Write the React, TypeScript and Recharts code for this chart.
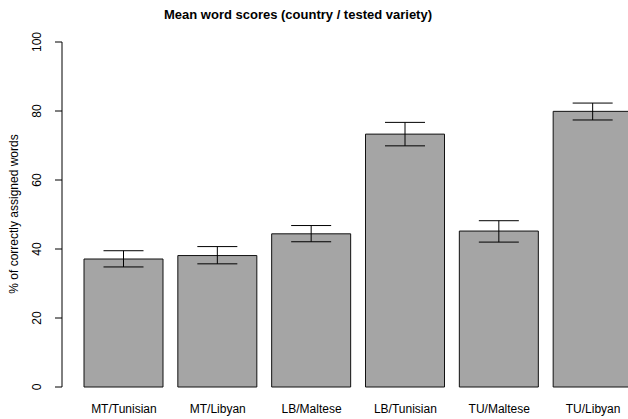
import React from 'react';
import { BarChart, Bar, XAxis, YAxis, ErrorBar } from 'recharts';

// Country / tested variety combinations
const categories = ['MT/Tunisian', 'MT/Libyan', 'LB/Maltese', 'LB/Tunisian', 'TU/Maltese', 'TU/Libyan'];
// Mean % of correctly assigned words
const means = [37.1, 38.1, 44.4, 73.3, 45.2, 79.9];
// Distance from the mean down to the lower whisker and up to the upper whisker
const errLow = [2.3, 2.4, 2.3, 3.4, 3.2, 2.5];
const errHigh = [2.4, 2.6, 2.4, 3.4, 3.0, 2.4];
const yTicks = [0, 20, 40, 60, 80, 100];

const data = categories.map((name, i) => ({
  name,
  mean: means[i],
  err: [errLow[i], errHigh[i]],
}));

const FONT = '"Liberation Sans", Arial, Helvetica, sans-serif';

const YTick = (props: any) => {
  const { x, y, payload } = props;
  return (
    <text
      x={x}
      y={y}
      transform={`rotate(-90 ${x} ${y})`}
      textAnchor="middle"
      fontFamily={FONT}
      fontSize={12}
      fill="#000"
    >
      {payload.value}
    </text>
  );
};

const XTick = (props: any) => {
  const { x, y, payload } = props;
  return (
    <text x={x} y={y + 18} textAnchor="middle" fontFamily={FONT} fontSize={12} fill="#000">
      {payload.value}
    </text>
  );
};

export default function App() {
  return (
    <div
      style={{
        position: 'absolute',
        left: 0,
        top: 0,
        width: 628,
        height: 419,
        overflow: 'hidden',
        background: '#fff',
      }}
    >
      <BarChart
        width={640}
        height={419}
        data={data}
        margin={{ top: 42, right: 0, bottom: 2, left: 0 }}
      >
        <text
          x={298}
          y={19}
          textAnchor="middle"
          fontFamily={FONT}
          fontSize={13}
          fontWeight="bold"
          fill="#000"
        >
          Mean word scores (country / tested variety)
        </text>
        <text
          x={18}
          y={214}
          transform="rotate(-90 18 214)"
          textAnchor="middle"
          fontFamily={FONT}
          fontSize={12}
          fill="#000"
        >
          % of correctly assigned words
        </text>
        <XAxis
          dataKey="name"
          height={30}
          axisLine={false}
          tickLine={false}
          padding={{ left: 15, right: 0 }}
          tick={<XTick />}
          interval={0}
        />
        <YAxis
          width={62}
          domain={[0, 100]}
          ticks={yTicks}
          interval={0}
          tickSize={7}
          tickMargin={14}
          axisLine={{ stroke: '#000' }}
          tickLine={{ stroke: '#000' }}
          tick={<YTick />}
        />
        <Bar
          dataKey="mean"
          fill="#a5a5a5"
          stroke="#111"
          strokeWidth={1}
          barSize={79}
          isAnimationActive={false}
        >
          <ErrorBar dataKey="err" width={20} stroke="#000" strokeWidth={1} direction="y" />
        </Bar>
      </BarChart>
    </div>
  );
}
